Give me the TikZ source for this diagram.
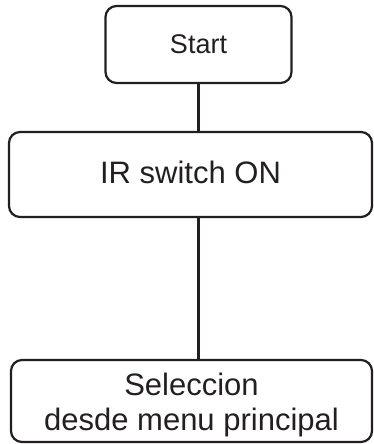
\documentclass[tikz,border=0pt]{standalone}
\usepackage{fontspec}
\setmainfont{Liberation Sans}
\usetikzlibrary{positioning}
\definecolor{inkline}{HTML}{231F20}
\tikzset{flow box/.style={rectangle, draw=inkline, line width=2.2pt,
    rounded corners=11pt, inner sep=0pt, align=center, text=inkline}}
\tikzset{flow edge/.style={draw=inkline, line width=2.2pt}}

\begin{document}
\begin{tikzpicture}[x=1pt, y=-1pt]
  \useasboundingbox (0,0) rectangle (373,444);

  \node [flow box, minimum width=186pt, minimum height=77pt,
         font=\fontsize{27}{31}\selectfont] (start) at (198.5,44.5) {Start};
  \node [flow box, minimum width=363pt, minimum height=85pt,
         text height=22pt, text depth=4pt,
         font=\fontsize{31}{35}\selectfont] (irsw)  at (190.5,174.5) {IR switch ON};
  \node [flow box, minimum width=361pt, minimum height=82pt,
         text height=66pt, text depth=6.5pt,
         font=\fontsize{31}{35}\selectfont] (menu)  at (191.5,401) {Seleccion\\desde menu principal};

  \draw [flow edge] (start.south) -- (start.south |- irsw.north);
  \draw [flow edge] (start.south |- irsw.south) -- (start.south |- menu.north);
\end{tikzpicture}
\end{document}
